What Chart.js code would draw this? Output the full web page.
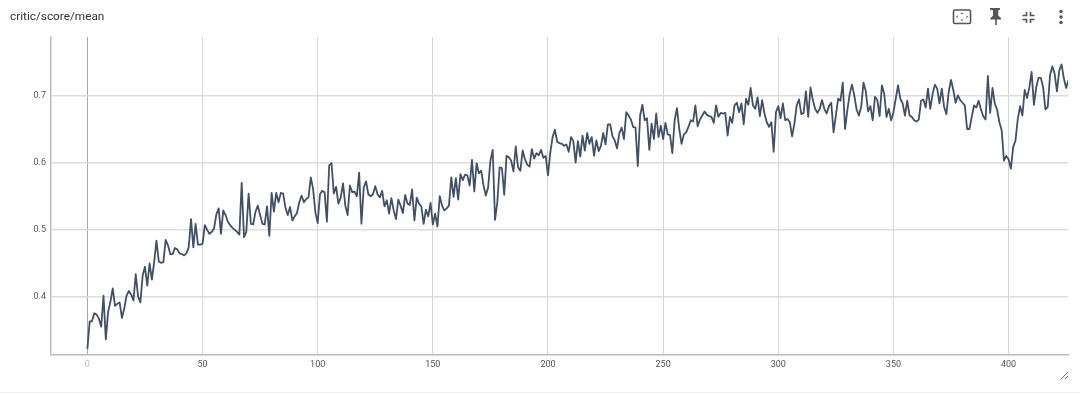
<!DOCTYPE html>
<html>
<head>
<meta charset="utf-8">
<title>critic/score/mean</title>
<script src="https://cdn.jsdelivr.net/npm/chart.js@4"></script>
<style>
    html, body { margin: 0; padding: 0; background: #fff; }
    #wrap { position: relative; width: 1080px; height: 394px; overflow: hidden; }
    #grafico { position: absolute; left: 0; top: 0; }
    #titulo { position: absolute; left: 10px; top: 9px; font: 11.8px Roboto, sans-serif; color: #333; }
    #icones { position: absolute; left: 0; top: 0; }
</style>
</head>
<body>
<div id="wrap">
    <canvas id="grafico" width="1080" height="394"></canvas>
    <div id="titulo">critic/score/mean</div>
    <svg id="icones" width="1080" height="394">
        <rect x="953.5" y="10" width="17" height="13.5" rx="1.5" fill="none" stroke="#555" stroke-width="1.6"/>
        <path d="M962 12.5l1.5 1.5h-3zM962 21l1.5-1.5h-3zM956 16.7l1.5-1.5v3zM968 16.7l-1.5-1.5v3z" fill="#555"/>
        <path d="M990 8h10v1.5l-1.7 1v5l2.7 2.7v1.3h-4.2v5.5h-1.6v-5.5H990.3v-1.3l2.7-2.7v-5l-3-1z" fill="#555"/>
        <path d="M1026.5 12v3.5H1022.5M1030.5 12v3.5H1034.5M1026.5 23v-3.5H1022.5M1030.5 23v-3.5H1034.5" fill="none" stroke="#555" stroke-width="1.6"/>
        <circle cx="1061" cy="11.5" r="1.7" fill="#555"/>
        <circle cx="1061" cy="17" r="1.7" fill="#555"/>
        <circle cx="1061" cy="22.5" r="1.7" fill="#555"/>
        <path d="M1061 379l7-7M1065 379l3-3" stroke="#777" stroke-width="1" fill="none"/>
        <path d="M0 392.5H1080" stroke="#f2f2f2" stroke-width="1"/>
    </svg>
</div>
<script>
var valores = [
    .323,.364,.364,.376,.374,.368,.356,.402,.337,.378,
    .393,.413,.387,.390,.392,.369,.383,.402,.409,.404,
    .395,.434,.401,.392,.432,.445,.417,.450,.426,.452,
    .484,.453,.451,.452,.485,.477,.464,.464,.473,.471,
    .465,.464,.462,.465,.474,.516,.474,.509,.478,.478,
    .479,.507,.500,.494,.497,.502,.523,.532,.494,.529,
    .522,.512,.507,.503,.500,.497,.493,.570,.489,.497,
    .554,.509,.508,.527,.536,.522,.509,.508,.535,.491,
    .555,.527,.555,.541,.555,.554,.533,.522,.534,.514,
    .520,.525,.541,.551,.541,.546,.548,.578,.561,.526,
    .510,.553,.558,.556,.512,.596,.599,.554,.564,.539,
    .548,.569,.536,.522,.566,.556,.557,.550,.585,.509,
    .563,.572,.553,.550,.553,.565,.553,.548,.558,.535,
    .544,.524,.547,.529,.516,.545,.536,.525,.552,.539,
    .537,.560,.514,.548,.539,.535,.509,.530,.520,.540,
    .508,.524,.505,.550,.536,.529,.532,.536,.578,.549,
    .577,.545,.583,.574,.582,.581,.566,.604,.557,.599,
    .584,.588,.566,.551,.563,.603,.619,.515,.541,.593,
    .592,.552,.610,.608,.603,.587,.624,.593,.588,.618,
    .605,.597,.594,.620,.606,.614,.611,.619,.607,.610,
    .581,.615,.638,.649,.631,.629,.628,.625,.627,.616,
    .638,.632,.600,.632,.609,.640,.618,.644,.628,.638,
    .610,.633,.617,.625,.644,.627,.657,.657,.639,.633,
    .621,.644,.652,.635,.675,.670,.664,.653,.652,.595,
    .670,.686,.663,.666,.619,.658,.635,.673,.638,.655,
    .635,.659,.642,.641,.614,.663,.681,.650,.628,.642,
    .645,.653,.663,.661,.685,.654,.664,.670,.676,.671,
    .669,.668,.659,.685,.668,.674,.673,.674,.640,.668,
    .659,.685,.689,.675,.688,.657,.695,.686,.711,.685,
    .680,.697,.669,.693,.673,.660,.653,.660,.616,.675,
    .684,.666,.688,.663,.665,.660,.639,.658,.685,.694,
    .672,.674,.706,.668,.712,.693,.680,.674,.680,.693,
    .680,.673,.684,.689,.645,.670,.695,.692,.719,.650,
    .678,.702,.716,.700,.679,.670,.683,.719,.706,.676,
    .684,.663,.698,.693,.669,.715,.702,.668,.680,.663,
    .675,.695,.715,.695,.688,.670,.692,.670,.668,.663,
    .661,.664,.692,.694,.682,.710,.680,.702,.716,.710,
    .688,.710,.683,.672,.705,.723,.708,.689,.700,.693,
    .689,.685,.650,.650,.668,.685,.682,.692,.679,.669,
    .664,.729,.674,.711,.688,.679,.660,.648,.603,.610,
    .605,.591,.623,.633,.665,.684,.670,.708,.696,.711,
    .735,.686,.712,.726,.726,.712,.679,.683,.730,.743,
    .732,.706,.737,.746,.725,.711,.723
];
var passos = valores.map(function (v, i) { return i; });
var ticksX = [0, 50, 100, 150, 200, 250, 300, 350, 400];
var ticksY = [0.4, 0.5, 0.6, 0.7];

var pontos = passos.map(function (p, i) { return { x: p, y: valores[i] }; });

var ctx = document.getElementById("grafico");

new Chart(ctx.getContext("2d"), {
    type: "line",
    data: {
        datasets: [{
            label: "critic/score/mean",
            data: pontos,
            borderColor: "#425066",
            borderWidth: 1.8,
            borderJoinStyle: "round",
            pointRadius: 0,
            tension: 0,
            fill: false
        }]
    },
    options: {
        responsive: false,
        animation: false,
        events: [],
        layout: {
            padding: { left: 0, right: 12, top: 37, bottom: 0 }
        },
        plugins: {
            legend: { display: false },
            tooltip: { enabled: false }
        },
        scales: {
            x: {
                type: "linear",
                min: -15.8,
                max: 425.8,
                afterFit: function (scale) { scale.height = 39; },
                afterBuildTicks: function (scale) {
                    scale.ticks = ticksX.map(function (v) { return { value: v }; });
                },
                border: { color: "#bdbdbd", width: 1.5 },
                grid: {
                    drawTicks: false,
                    lineWidth: 1,
                    color: function (c) { return c.tick && c.tick.value === 0 ? "#a8a8a8" : "#d6d6d6"; }
                },
                ticks: {
                    padding: 4,
                    maxRotation: 0,
                    font: { family: "Roboto", size: 9 },
                    color: function (c) { return c.tick.value === 0 ? "#bbbbbb" : "#555555"; }
                }
            },
            y: {
                min: 0.3139,
                max: 0.7868,
                afterFit: function (scale) { scale.width = 51; },
                afterBuildTicks: function (scale) {
                    scale.ticks = ticksY.map(function (v) { return { value: v }; });
                },
                border: { color: "#bdbdbd", width: 1.5 },
                grid: {
                    drawTicks: false,
                    lineWidth: 1.5,
                    color: "#dddddd"
                },
                ticks: {
                    padding: 5,
                    font: { family: "Roboto", size: 9 },
                    color: "#555555",
                    callback: function (v) { return v.toFixed(1); }
                }
            }
        }
    }
});
</script>
</body>
</html>
